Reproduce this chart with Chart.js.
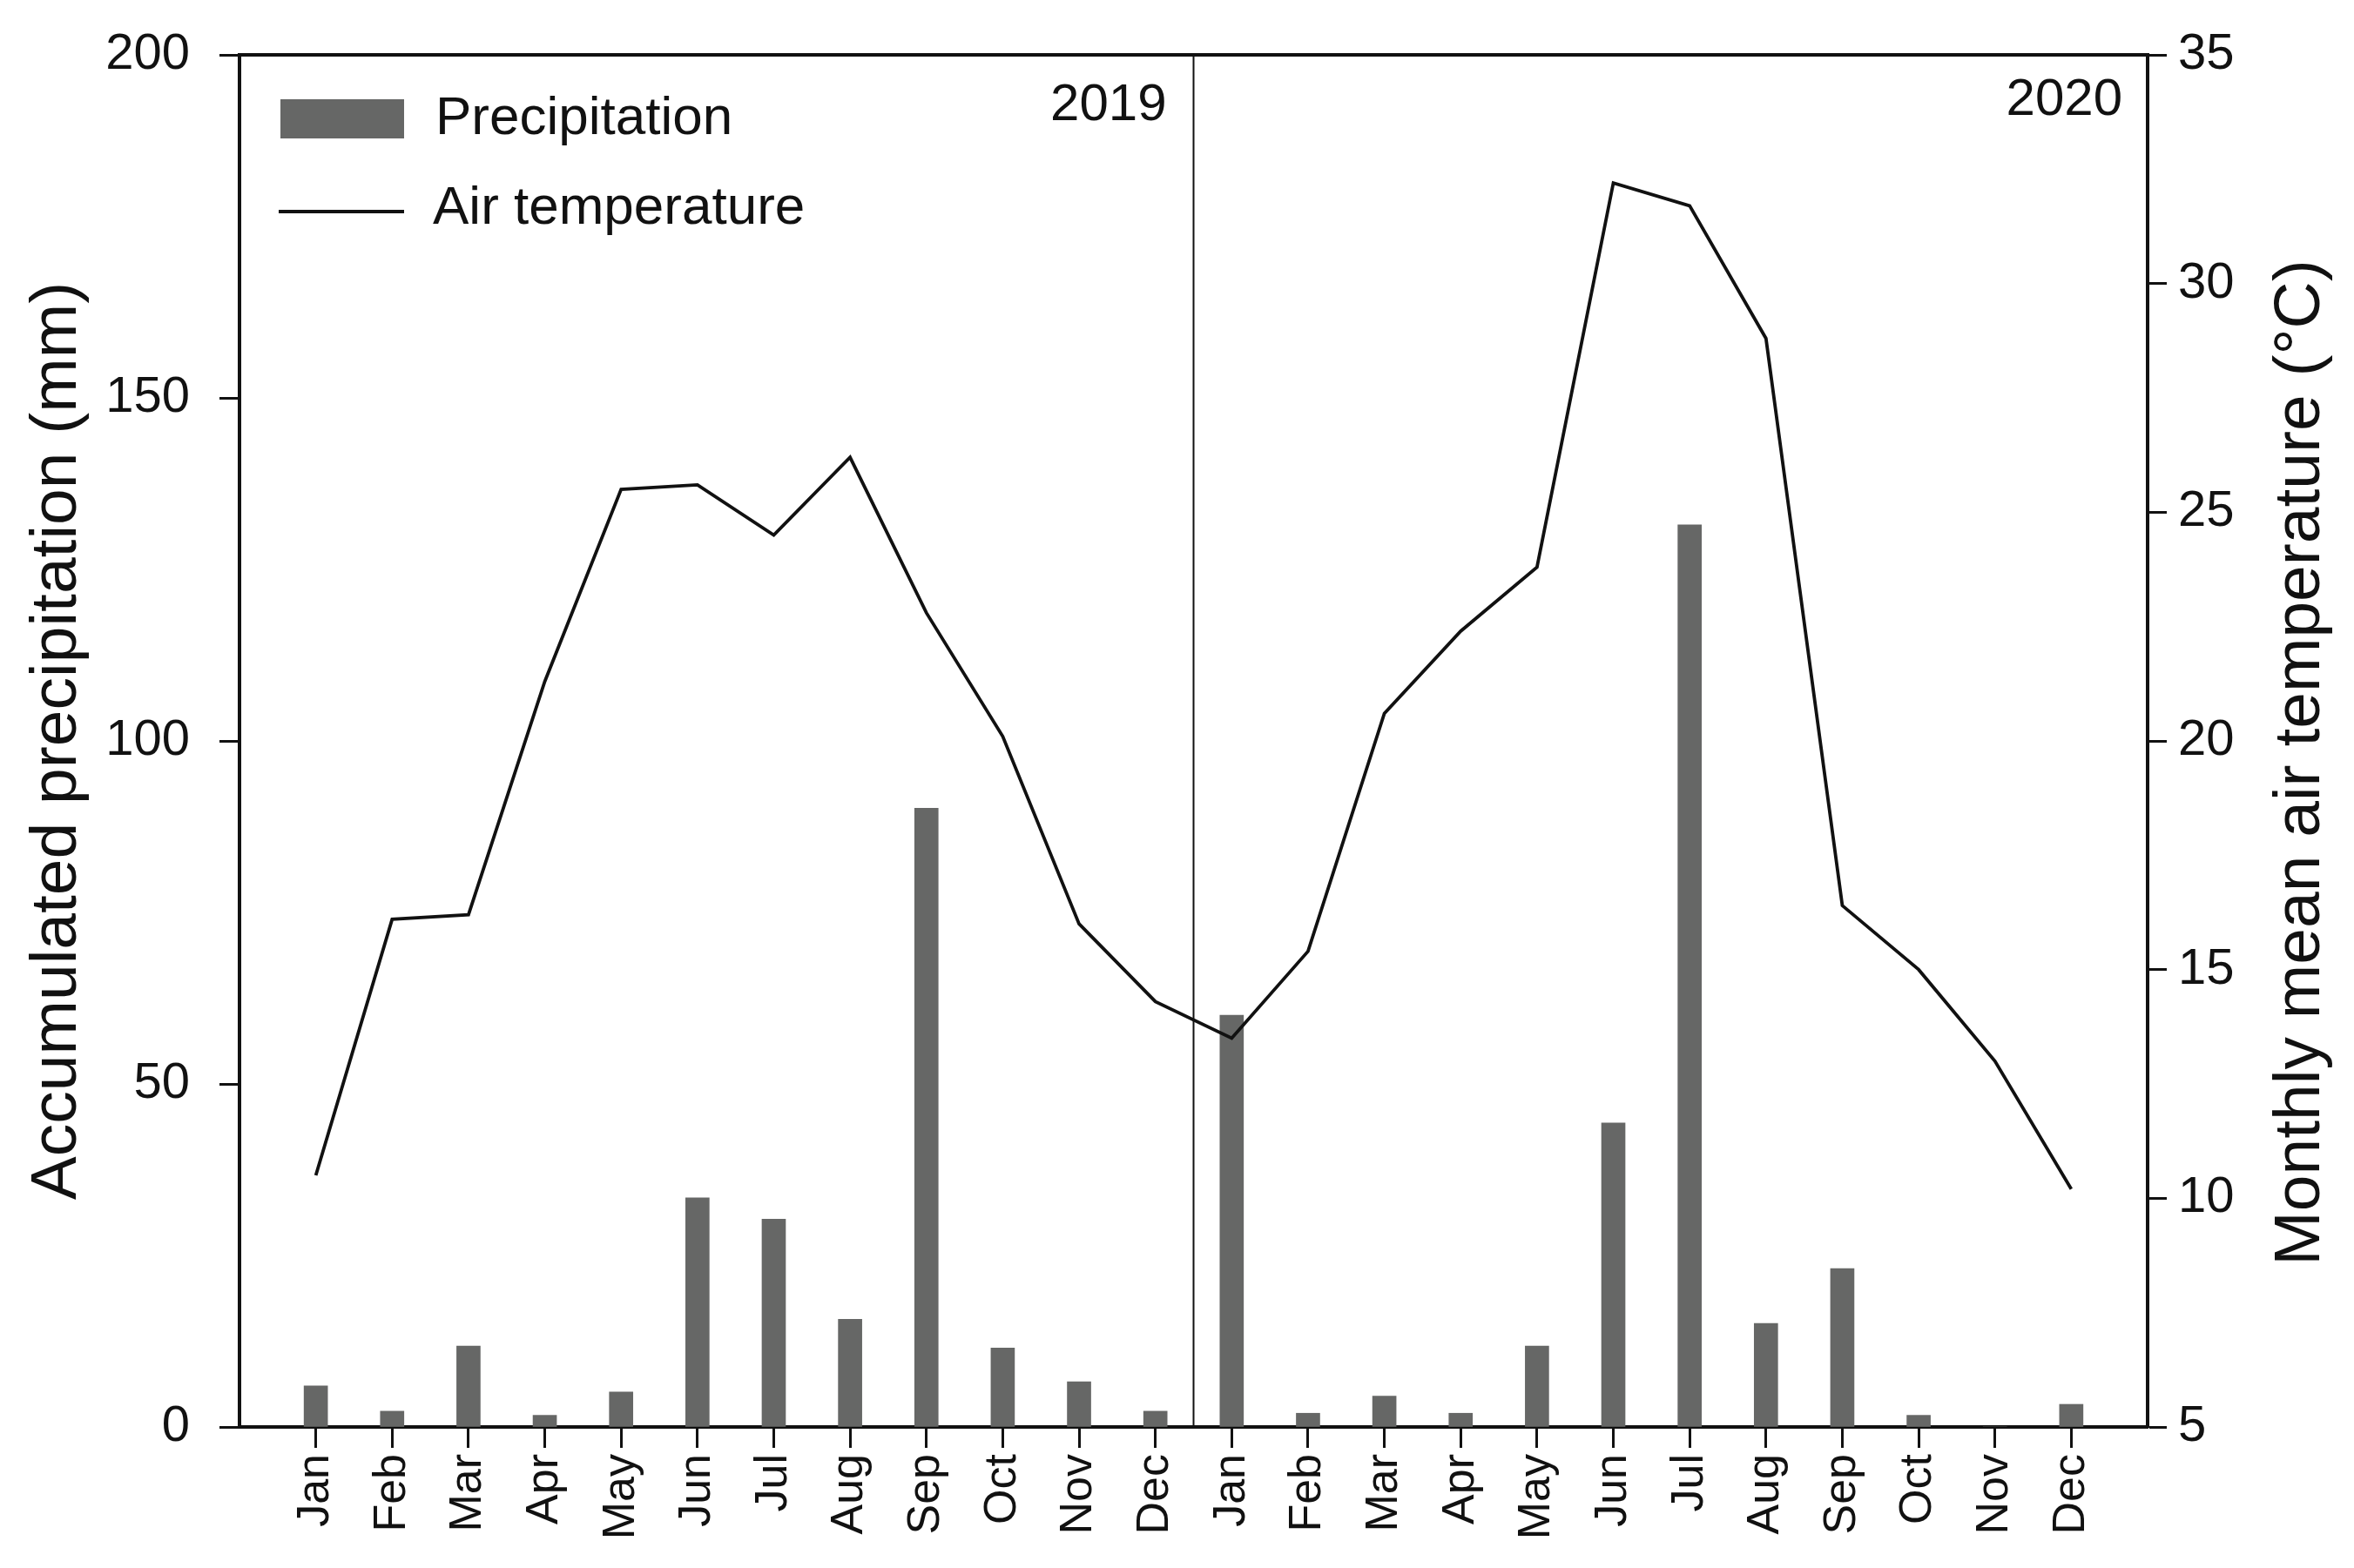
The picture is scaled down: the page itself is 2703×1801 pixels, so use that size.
<!DOCTYPE html>
<html>
<head>
<meta charset="utf-8">
<title>Precipitation and air temperature</title>
<script src="https://cdn.jsdelivr.net/npm/chart.js@4.4.1/dist/chart.umd.min.js"></script>
<style>
  html, body { margin: 0; padding: 0; background: #fff; }
  canvas { display: block; }
</style>
</head>
<body>
<canvas id="climate" width="2703" height="1801" style="width:2703px;height:1801px"></canvas>
<script>
// month tick labels, two years side by side
const monthLabels = ['Jan','Feb','Mar','Apr','May','Jun','Jul','Aug','Sep','Oct','Nov','Dec',
                     'Jan','Feb','Mar','Apr','May','Jun','Jul','Aug','Sep','Oct','Nov','Dec'];
const years = ['2019', '2020'];

// accumulated precipitation (mm)
const precip2019 = [6.0, 2.3, 11.8, 1.7, 5.1, 33.4, 30.3, 15.7, 90.2, 11.5, 6.6, 2.3];
const precip2020 = [60.0, 2.0, 4.5, 2.0, 11.8, 44.3, 131.5, 15.1, 23.1, 1.7, 0, 3.3];

// monthly mean air temperature (°C)
const temp2019 = [10.5, 16.1, 16.2, 21.3, 25.5, 25.6, 24.5, 26.2, 22.8, 20.1, 16.0, 14.3];
const temp2020 = [13.5, 15.4, 20.6, 22.4, 23.8, 32.2, 31.7, 28.8, 16.4, 15.0, 13.0, 10.2];

const precipTicks = [0, 50, 100, 150, 200];
const tempTicks = [5, 10, 15, 20, 25, 30, 35];
const tempTitle = 'Monthly mean air temperature (°C)';

const FONT = "'Liberation Sans', Arial, sans-serif";
const INK = '#111';
const BAR = '#666766';

const precip = precip2019.concat(precip2020);
const temp = temp2019.concat(temp2020);

// x positions 1..24 on a 0..25 linear axis
const precipPoints = precip.map((v, i) => ({ x: i + 1, y: v }));
const tempPoints = temp.map((v, i) => ({ x: i + 1, y: v }));

// frame, year divider, year labels, right title and the in-plot legend
const decorations = {
    id: 'decorations',
    afterDatasetsDraw(chart) {
        const ctx = chart.ctx;
        const area = chart.chartArea;
        const x = chart.scales.x;
        ctx.save();
        ctx.strokeStyle = INK;

        // top edge of the frame
        ctx.lineWidth = 4;
        ctx.beginPath();
        ctx.moveTo(area.left, area.top);
        ctx.lineTo(area.right, area.top);
        ctx.stroke();

        // divider between years
        const mid = x.getPixelForValue(12.5);
        ctx.lineWidth = 2;
        ctx.beginPath();
        ctx.moveTo(mid, area.top);
        ctx.lineTo(mid, area.bottom);
        ctx.stroke();

        // year labels
        ctx.fillStyle = INK;
        ctx.font = '60px ' + FONT;
        ctx.textAlign = 'right';
        ctx.textBaseline = 'middle';
        ctx.fillText(years[0], mid - 31, area.top + 58);
        ctx.fillText(years[1], area.right - 29, area.top + 52);

        // legend
        const ds = chart.data.datasets;
        ctx.font = '62px ' + FONT;
        ctx.textAlign = 'left';
        ctx.fillStyle = BAR;
        ctx.fillRect(area.left + 47, area.top + 51, 142, 45);
        ctx.fillStyle = INK;
        ctx.fillText(ds[0].label, area.left + 225, area.top + 74);

        ctx.lineWidth = 4;
        ctx.beginPath();
        ctx.moveTo(area.left + 45, area.top + 180);
        ctx.lineTo(area.left + 189, area.top + 180);
        ctx.stroke();
        ctx.fillText(ds[1].label, area.left + 222, area.top + 177);

        // right axis title, reading bottom to top like the left one
        ctx.font = '75px ' + FONT;
        ctx.textAlign = 'center';
        ctx.textBaseline = 'alphabetic';
        ctx.translate(area.right + 197, (area.top + area.bottom) / 2 + 25);
        ctx.rotate(-Math.PI / 2);
        ctx.fillText(tempTitle, 0, 0);

        ctx.restore();
    }
};

const noOverflow = (scale) => { scale.paddingTop = 0; scale.paddingBottom = 0; };

const ctx = document.getElementById('climate').getContext('2d');
new Chart(ctx, {
    type: 'bar',
    data: {
        datasets: [{
            label: 'Precipitation',
            data: precipPoints,
            backgroundColor: BAR,
            borderWidth: 0,
            barThickness: 27,
            yAxisID: 'y',
            order: 2
        }, {
            type: 'line',
            label: 'Air temperature',
            data: tempPoints,
            borderColor: INK,
            borderWidth: 3.8,
            pointRadius: 0,
            tension: 0,
            fill: false,
            yAxisID: 'y2',
            order: 1
        }]
    },
    options: {
        responsive: false,
        animation: false,
        devicePixelRatio: 1,
        layout: { padding: { top: 63, right: 0, bottom: 0, left: 0 } },
        plugins: {
            legend: { display: false },
            tooltip: { enabled: false }
        },
        scales: {
            x: {
                type: 'linear',
                position: 'bottom',
                min: 0,
                max: 25,
                offset: false,
                grid: { drawOnChartArea: false, offset: false, tickLength: 24, tickWidth: 3, tickColor: INK },
                border: { width: 4, color: INK },
                afterBuildTicks: (scale) => {
                    scale.ticks = monthLabels.map((m, i) => ({ value: i + 1 }));
                },
                afterFit: (scale) => {
                    scale.height = 162;
                    scale.paddingLeft = 0;
                    scale.paddingRight = 0;
                },
                ticks: {
                    autoSkip: false,
                    maxRotation: 90,
                    minRotation: 90,
                    padding: 7,
                    color: INK,
                    font: { family: FONT, size: 52 },
                    callback: (value) => monthLabels[value - 1]
                }
            },
            y: {
                position: 'left',
                min: 0,
                max: 200,
                grid: { drawOnChartArea: false, tickLength: 23, tickWidth: 3, tickColor: INK },
                border: { width: 4, color: INK },
                afterBuildTicks: (scale) => {
                    scale.ticks = precipTicks.map(v => ({ value: v }));
                },
                afterFit: (scale) => { scale.width = 275; noOverflow(scale); },
                ticks: {
                    padding: 34,
                    color: INK,
                    font: { family: FONT, size: 58 }
                },
                title: {
                    display: true,
                    text: 'Accumulated precipitation (mm)',
                    color: INK,
                    font: { family: FONT, size: 75 },
                    padding: { top: 21, bottom: 0 }
                }
            },
            y2: {
                position: 'right',
                min: 5,
                max: 35,
                grid: { drawOnChartArea: false, tickLength: 22, tickWidth: 3, tickColor: INK },
                border: { width: 4, color: INK },
                afterBuildTicks: (scale) => {
                    scale.ticks = tempTicks.map(v => ({ value: v }));
                },
                afterFit: (scale) => { scale.width = 237; noOverflow(scale); },
                ticks: {
                    padding: 13,
                    color: INK,
                    font: { family: FONT, size: 58 }
                }
            }
        }
    },
    plugins: [decorations]
});
</script>
</body>
</html>
